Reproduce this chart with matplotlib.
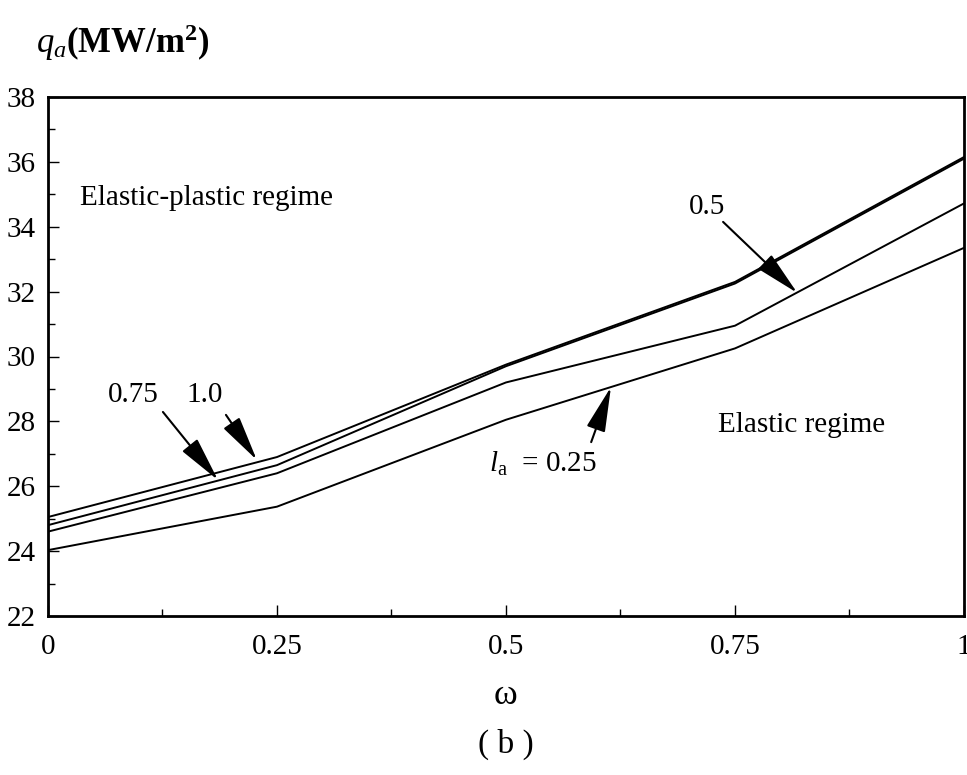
import matplotlib
matplotlib.use("Agg")
import matplotlib.pyplot as plt
from matplotlib.ticker import MultipleLocator

plt.rcParams['font.family'] = ['Liberation Serif', 'DejaVu Serif']
plt.rcParams['mathtext.fontset'] = 'custom'
plt.rcParams['mathtext.rm'] = 'Liberation Serif'
plt.rcParams['mathtext.it'] = 'Liberation Serif:italic'
plt.rcParams['mathtext.bf'] = 'Liberation Serif:bold'

# omega values and q_a for each l_a
omega = [0, 0.25, 0.5, 0.75, 1.0]
qa_la100 = [25.05, 26.9, 29.75, 32.3, 36.15]
qa_la075 = [24.8, 26.65, 29.7, 32.25, 36.1]
qa_la050 = [24.6, 26.4, 29.2, 30.95, 34.72]
qa_la025 = [24.03, 25.37, 28.05, 30.25, 33.35]

xticks = [0, 0.25, 0.5, 0.75, 1]
xticklabels = ['0', '0.25', '0.5', '0.75', '1']
yticks = [22, 24, 26, 28, 30, 32, 34, 36, 38]

n = 21
fig = plt.figure(figsize=(9.67, 7.75), dpi=100)
ax = fig.add_axes([0.0496, 0.2052, 0.9473, 0.6696])

for q in [qa_la100, qa_la075, qa_la050, qa_la025]:
    ax.plot(omega, q, color='k', linewidth=1.4)

ax.set_xlim(0, 1)
ax.set_ylim(22, 38)
ax.set_xticks(xticks)
ax.set_xticklabels(xticklabels, size=n)
ax.set_yticks(yticks)
ax.set_yticklabels([str(v) for v in yticks], size=n)
ax.xaxis.set_minor_locator(MultipleLocator(0.125))
ax.yaxis.set_minor_locator(MultipleLocator(1))
ax.tick_params(which='major', direction='in', length=8, width=1, pad=9)
ax.tick_params(which='minor', direction='in', length=5, width=1)
ax.tick_params(axis='x', which='major', pad=13)
for s in ax.spines.values():
    s.set_linewidth(2)

# labels
fig.text(0.037, 0.945, r'$q_a\mathbf{(MW/m^2)}$', fontsize=25, ha='left', va='center')
fig.text(0.523, 0.103, 'ω', fontsize=26, ha='center', va='center')
fig.text(0.523, 0.039, '( b )', fontsize=24, ha='center', va='center')

ax.text(0.035, 34.9, 'Elastic-plastic regime', fontsize=n, ha='left', va='center')
ax.text(0.731, 27.9, 'Elastic regime', fontsize=n, ha='left', va='center')

ap = dict(arrowstyle='-|>,head_length=1.4,head_width=0.3', color='k',
          lw=1.5, mutation_scale=20, shrinkA=0, shrinkB=0)
ax.annotate('', xy=(0.818, 31.96), xytext=(0.737, 34.15), arrowprops=ap)
ax.text(0.719, 34.6, '0.5', fontsize=n, ha='center', va='center')
ax.annotate('', xy=(0.1856, 26.19), xytext=(0.1255, 28.29), arrowprops=ap)
ax.text(0.093, 28.8, '0.75', fontsize=n, ha='center', va='center')
ax.annotate('', xy=(0.228, 26.81), xytext=(0.1943, 28.2), arrowprops=ap)
ax.text(0.1715, 28.8, '1.0', fontsize=n, ha='center', va='center')
ax.annotate('', xy=(0.6146, 29.06), xytext=(0.593, 27.36), arrowprops=ap)
ax.text(0.482, 26.7, r'$l_{\mathrm{a}}$  = 0.25', fontsize=n, ha='left', va='center')

fig.savefig('out.png', dpi=100)
